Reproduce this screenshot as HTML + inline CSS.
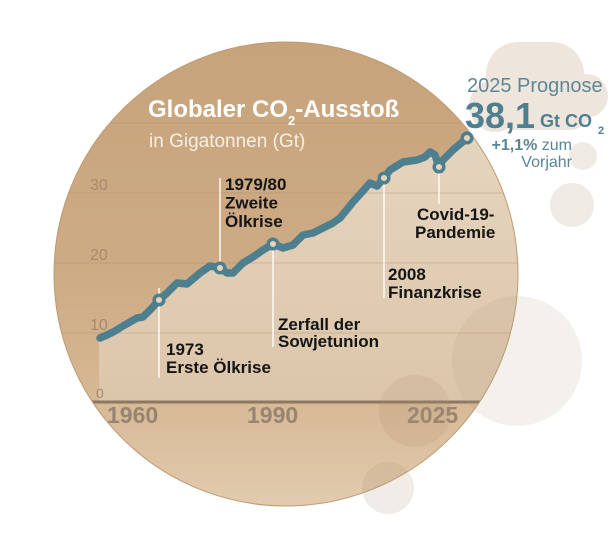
<!DOCTYPE html>
<html><head><meta charset="utf-8">
<style>
html,body{margin:0;padding:0;background:#fff;}
svg{display:block;font-family:"Liberation Sans",Arial,sans-serif;}
</style></head>
<body>
<svg width="616" height="538" viewBox="0 0 616 538" xmlns="http://www.w3.org/2000/svg">
<defs>
  <linearGradient id="gMain" gradientUnits="userSpaceOnUse" x1="0" y1="42" x2="0" y2="506">
    <stop offset="0" stop-color="#c7a37b"/>
    <stop offset="0.5" stop-color="#cdab85"/>
    <stop offset="0.77" stop-color="#d6b894"/>
    <stop offset="1" stop-color="#e2cbaf"/>
  </linearGradient>
  <linearGradient id="gFill" gradientUnits="userSpaceOnUse" x1="0" y1="138" x2="0" y2="402">
    <stop offset="0" stop-color="#e5d4be"/>
    <stop offset="1" stop-color="#dcc6aa"/>
  </linearGradient>
  <clipPath id="cc"><circle cx="286" cy="274" r="232"/></clipPath>
</defs>

<!-- background blobs (behind) -->
<g fill="#eee6dd">
  <rect x="486" y="42" width="98" height="86" rx="32"/>
  <circle cx="586" cy="96" r="22"/>
  <circle cx="495" cy="106" r="26"/>
  <rect x="495" y="80" width="95" height="50" rx="20"/>
</g>
<circle cx="583" cy="156" r="14" fill="#f0eae4"/>
<circle cx="572" cy="205" r="22" fill="#f0eae4"/>

<!-- main circle -->
<circle cx="286" cy="274" r="232" fill="url(#gMain)"/>

<g clip-path="url(#cc)">
  <!-- area fill -->
  <polygon fill="url(#gFill)" points="99,338 100,338 107,335 115,331 123,326 130,322 137,318 143,317 152,308 159,300 167,293 177,283 187,284 200,273 210,266 220,268 227,273 233,273 243,263 253,257 263,250 273,244 283,248 293,245 303,235 313,233 323,228 333,223 340,218 353,202 362,192 370,183 377,186 384,178 390,170 403,162 417,160 425,157 430,152 435,155 439,167 443,160 453,150 467,138 530,138 530,402 99,402"/>
  <!-- gridlines -->
  <g stroke="#a88760" stroke-opacity="0.35" stroke-width="1">
    <line x1="40" y1="123" x2="530" y2="123"/>
    <line x1="40" y1="193" x2="530" y2="193"/>
    <line x1="40" y1="263" x2="530" y2="263"/>
    <line x1="40" y1="333" x2="530" y2="333"/>
  </g>
  <!-- axis -->
  <line x1="40" y1="402" x2="530" y2="402" stroke="#8c7862" stroke-width="3"/>
</g>
<circle cx="286" cy="274" r="232" fill="none" stroke="#bd9a72" stroke-width="1"/>

<!-- y labels -->
<g fill="#a58a6d" font-size="16">
  <text x="90" y="190">30</text>
  <text x="90" y="260">20</text>
  <text x="90" y="330">10</text>
  <text x="96" y="398" font-size="14">0</text>
</g>

<!-- x labels -->
<g fill="#988571" font-size="23" font-weight="bold">
  <text x="107" y="423">1960</text>
  <text x="247" y="423">1990</text>
  <text x="407" y="423">2025</text>
</g>

<!-- annotation lines -->
<g stroke="#ffffff" stroke-width="1.5" stroke-opacity="0.9">
  <line x1="159" y1="288" x2="159" y2="378"/>
  <line x1="220" y1="178" x2="220" y2="262"/>
  <line x1="273" y1="250" x2="273" y2="347"/>
  <line x1="384" y1="184" x2="384" y2="298"/>
  <line x1="439" y1="172" x2="439" y2="204"/>
</g>

<!-- data line -->
<polyline fill="none" stroke="#4e7f8f" stroke-width="7.5" stroke-linejoin="round" stroke-linecap="round" points="100,338 107,335 115,331 123,326 130,322 137,318 143,317 152,308 159,300 167,293 177,283 187,284 200,273 210,266 220,268 227,273 233,273 243,263 253,257 263,250 273,244 283,248 293,245 303,235 313,233 323,228 333,223 340,218 353,202 362,192 370,183 377,186 384,178 390,170 403,162 417,160 425,157 430,152 435,155 439,167 443,160 453,150 467,138"/>
<g fill="#e4d4bf" stroke="#4e7f8f" stroke-width="3.5">
  <circle cx="159" cy="300" r="4.8"/>
  <circle cx="220" cy="268" r="4.8"/>
  <circle cx="273" cy="244" r="4.8"/>
  <circle cx="384" cy="178" r="4.8"/>
  <circle cx="439" cy="167" r="4.8"/>
  <circle cx="467" cy="138" r="4.8"/>
</g>

<!-- title -->
<text x="148" y="117" fill="#ffffff" font-size="24" font-weight="bold">Globaler CO<tspan font-size="13" dy="8">2</tspan><tspan dy="-8">-Ausstoß</tspan></text>
<text x="149" y="147" fill="#f6efe6" font-size="19">in Gigatonnen (Gt)</text>

<!-- annotations -->
<g fill="#141414" font-size="17" font-weight="bold">
  <text x="225" y="190">1979/80</text>
  <text x="225" y="208.5">Zweite</text>
  <text x="225" y="227">Ölkrise</text>
  <text x="166" y="355">1973</text>
  <text x="166" y="373">Erste Ölkrise</text>
  <text x="278" y="330">Zerfall der</text>
  <text x="278" y="347">Sowjetunion</text>
  <text x="388" y="280">2008</text>
  <text x="388" y="298">Finanzkrise</text>
  <text x="417" y="220">Covid-19-</text>
  <text x="415" y="238">Pandemie</text>
</g>

<!-- overlay translucent circles -->
<circle cx="517" cy="361" r="65" fill="#b49a80" fill-opacity="0.14"/>
<circle cx="415" cy="411" r="36" fill="#aa8c6e" fill-opacity="0.17"/>
<circle cx="388" cy="488" r="26" fill="#aa8c6e" fill-opacity="0.17"/>

<!-- right side prognosis -->
<text x="467" y="92" fill="#5d8796" font-size="20">2025 Prognose</text>
<text x="465" y="128" fill="#4f7f8f" font-size="36" font-weight="bold">38,1</text>
<text x="540" y="127" fill="#4f7f8f" font-size="18" font-weight="bold">Gt CO</text>
<text x="598" y="134" fill="#4f7f8f" font-size="11" font-weight="bold">2</text>
<text x="572" y="150" fill="#5a8695" font-size="16" text-anchor="end"><tspan font-weight="bold">+1,1%</tspan> zum</text>
<text x="572" y="167" fill="#5a8695" font-size="16" text-anchor="end">Vorjahr</text>
</svg>
</body></html>
